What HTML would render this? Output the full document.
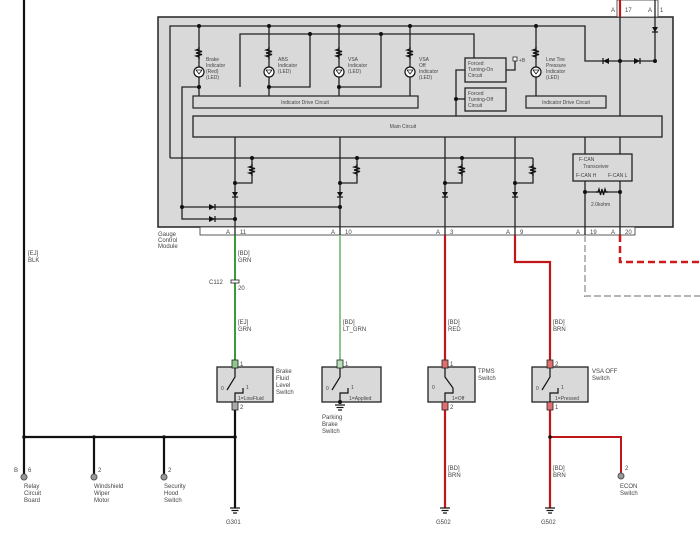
<!DOCTYPE html>
<html><head><meta charset="utf-8"><style>
html,body{margin:0;padding:0;background:#fff;}
svg{display:block;font-family:"Liberation Sans",sans-serif;}
text{font-size:6px;fill:#444;}
.s{font-size:5px;}
</style></head><body>
<svg width="700" height="538" viewBox="0 0 700 538">
<defs>
<g id="res"><path d="M0,-6 L0,-4 L-3,-3 L3,-1.5 L-3,0 L3,1.5 L-3,3 L0,4 L0,6" fill="none" stroke="#111" stroke-width="1.2"/></g>
<g id="lamp"><circle r="5" fill="#fff" stroke="#111" stroke-width="1.2"/><path d="M-3,-2 L0,2 L3,-2 M-3,-2 L3,-2" fill="none" stroke="#111" stroke-width="0.8"/></g>
<g id="diode"><path d="M-4,-3 L-4,3 L2,0 Z" fill="#111"/><line x1="2" y1="-3" x2="2" y2="3" stroke="#111" stroke-width="1.2"/></g>
<g id="ddown"><path d="M-3,-3 L3,-3 L0,2 Z" fill="#111"/><line x1="-3" y1="2" x2="3" y2="2" stroke="#111" stroke-width="1.2"/></g>
<g id="gnd"><line x1="-5" y1="0" x2="5" y2="0" stroke="#111" stroke-width="1.2"/><line x1="-3.5" y1="2.5" x2="3.5" y2="2.5" stroke="#111" stroke-width="1.2"/><line x1="-2" y1="5" x2="2" y2="5" stroke="#111" stroke-width="1.2"/></g>
</defs>

<rect x="158" y="17" width="515" height="210" fill="#d9d9d9" stroke="#222" stroke-width="1.5"/>
<rect x="200" y="227" width="435" height="8" fill="#fff" stroke="#333" stroke-width="0.8"/>
<rect x="617" y="0" width="41" height="17" fill="#fff" stroke="#333" stroke-width="0.8"/>
<text x="158" y="236">Gauge</text><text x="158" y="242">Control</text><text x="158" y="248">Module</text>

<g fill="none" stroke="#222" stroke-width="1.3">
<polyline points="170,158 170,26 585,26 585,61 600,61"/>
<line x1="170" y1="158" x2="533" y2="158"/>
<polyline points="240,87 240,34 474,34 474,58"/>
<polyline points="199,87 182,87 182,219 235,219"/>
<line x1="182" y1="207" x2="340" y2="207"/>
<line x1="199" y1="26" x2="199" y2="96"/>
<line x1="269" y1="26" x2="269" y2="96"/>
<line x1="339" y1="26" x2="339" y2="96"/>
<line x1="410" y1="26" x2="410" y2="96"/>
<polyline points="269,87 310,87 310,34"/>
<polyline points="339,87 381,87 381,34"/>
<line x1="536" y1="26" x2="536" y2="96"/>
<polyline points="456,116 456,70 465,70"/>
<line x1="456" y1="99" x2="465" y2="99"/>
<polyline points="506,70 515,70 515,61"/>
<line x1="600" y1="61" x2="655" y2="61"/>
<line x1="620" y1="0" x2="620" y2="116"/>
<line x1="655" y1="0" x2="655" y2="61"/>
<line x1="235" y1="137" x2="235" y2="235"/>
<line x1="340" y1="137" x2="340" y2="235"/>
<line x1="445" y1="137" x2="445" y2="235"/>
<line x1="515" y1="137" x2="515" y2="235"/>
<line x1="585" y1="137" x2="585" y2="235"/>
<line x1="620" y1="137" x2="620" y2="235"/>
<polyline points="252,158 252,183 235,183"/>
<polyline points="357,158 357,183 340,183"/>
<polyline points="462,158 462,183 445,183"/>
<polyline points="533,158 533,183 515,183"/>
<line x1="585" y1="192" x2="620" y2="192"/>
</g>
<g fill="#111">
<circle cx="199" cy="26" r="2"/><circle cx="269" cy="26" r="2"/><circle cx="339" cy="26" r="2"/><circle cx="410" cy="26" r="2"/><circle cx="536" cy="26" r="2"/>
<circle cx="310" cy="34" r="2"/><circle cx="381" cy="34" r="2"/>
<circle cx="199" cy="87" r="2"/><circle cx="269" cy="87" r="2"/><circle cx="339" cy="87" r="2"/>
<circle cx="456" cy="99" r="2"/><circle cx="620" cy="61" r="2"/><circle cx="655" cy="61" r="2"/>
<circle cx="252" cy="158" r="2"/><circle cx="357" cy="158" r="2"/><circle cx="462" cy="158" r="2"/>
<circle cx="235" cy="183" r="2"/><circle cx="340" cy="183" r="2"/><circle cx="445" cy="183" r="2"/><circle cx="515" cy="183" r="2"/>
<circle cx="182" cy="207" r="2"/><circle cx="340" cy="207" r="2"/><circle cx="235" cy="219" r="2"/>
<circle cx="585" cy="192" r="2"/><circle cx="620" cy="192" r="2"/>
</g>
<use href="#res" x="199" y="53"/><use href="#res" x="269" y="53"/><use href="#res" x="339" y="53"/><use href="#res" x="410" y="53"/><use href="#res" x="536" y="53"/>
<use href="#lamp" x="199" y="72"/><use href="#lamp" x="269" y="72"/><use href="#lamp" x="339" y="72"/><use href="#lamp" x="410" y="72"/><use href="#lamp" x="536" y="72"/>
<use href="#res" x="252" y="170"/><use href="#res" x="357" y="170"/><use href="#res" x="462" y="170"/><use href="#res" x="533" y="170"/>
<use href="#ddown" x="235" y="195"/><use href="#ddown" x="340" y="195"/><use href="#ddown" x="445" y="195"/><use href="#ddown" x="515" y="195"/>
<use href="#ddown" x="655" y="30"/>
<use href="#diode" x="213" y="207"/><use href="#diode" x="213" y="219"/>
<g transform="translate(605,61) rotate(180)"><use href="#diode"/></g>
<use href="#diode" x="638" y="61"/>
<g transform="translate(602,192) rotate(90)"><use href="#res"/></g>
<rect x="513" y="57" width="4" height="4" fill="#fff" stroke="#222" stroke-width="0.8"/>
<text x="519" y="62" class="s">+B</text>

<text class="s" x="206" y="61">Brake</text><text class="s" x="206" y="67">Indicator</text><text class="s" x="206" y="73">(Red)</text><text class="s" x="206" y="79">(LED)</text>
<text class="s" x="278" y="61">ABS</text><text class="s" x="278" y="67">Indicator</text><text class="s" x="278" y="73">(LED)</text>
<text class="s" x="348" y="61">VSA</text><text class="s" x="348" y="67">Indicator</text><text class="s" x="348" y="73">(LED)</text>
<text class="s" x="419" y="61">VSA</text><text class="s" x="419" y="67">Off</text><text class="s" x="419" y="73">Indicator</text><text class="s" x="419" y="79">(LED)</text>
<text class="s" x="546" y="61">Low Tire</text><text class="s" x="546" y="67">Pressure</text><text class="s" x="546" y="73">Indicator</text><text class="s" x="546" y="79">(LED)</text>

<rect x="193" y="96" width="225" height="12" fill="#d9d9d9" stroke="#222" stroke-width="1.2"/>
<text class="s" x="305" y="104" text-anchor="middle">Indicator Drive Circuit</text>
<rect x="526" y="96" width="80" height="12" fill="#d9d9d9" stroke="#222" stroke-width="1.2"/>
<text class="s" x="566" y="104" text-anchor="middle">Indicator Drive Circuit</text>
<rect x="193" y="116" width="469" height="21" fill="#d9d9d9" stroke="#222" stroke-width="1.3"/>
<text class="s" x="403" y="128" text-anchor="middle">Main Circuit</text>
<rect x="465" y="58" width="41" height="24" fill="#d9d9d9" stroke="#222" stroke-width="1.3"/>
<text class="s" x="468" y="65">Forced</text><text class="s" x="468" y="71">Turning-On</text><text class="s" x="468" y="77">Circuit</text>
<rect x="465" y="88" width="41" height="23" fill="#d9d9d9" stroke="#222" stroke-width="1.3"/>
<text class="s" x="468" y="95">Forced</text><text class="s" x="468" y="101">Turning-Off</text><text class="s" x="468" y="107">Circuit</text>
<rect x="573" y="154" width="59" height="27" fill="#d9d9d9" stroke="#222" stroke-width="1.3"/>
<text class="s" x="579" y="161">F-CAN</text><text class="s" x="583" y="168">Transceiver</text>
<text class="s" x="576" y="177">F-CAN H</text><text class="s" x="608" y="177">F-CAN L</text>
<text class="s" x="591" y="206">2.0kohm</text>

<text x="226" y="234">A</text><text x="240" y="234">11</text>
<text x="331" y="234">A</text><text x="345" y="234">10</text>
<text x="436" y="234">A</text><text x="450" y="234">3</text>
<text x="506" y="234">A</text><text x="520" y="234">9</text>
<text x="576" y="234">A</text><text x="590" y="234">19</text>
<text x="611" y="234">A</text><text x="625" y="234">20</text>
<text x="611" y="12">A</text><text x="625" y="12">17</text>
<text x="648" y="12">A</text><text x="660" y="12">1</text>

<line x1="235" y1="235" x2="235" y2="360" stroke="#3a9a3a" stroke-width="2"/>
<line x1="340" y1="235" x2="340" y2="360" stroke="#8cc88c" stroke-width="2"/>
<line x1="445" y1="235" x2="445" y2="360" stroke="#c0161a" stroke-width="2.2"/>
<polyline points="515,235 515,262 550,262 550,360" fill="none" stroke="#c0161a" stroke-width="2.2"/>
<line x1="620" y1="0" x2="620" y2="17" stroke="#c0161a" stroke-width="2.2"/>
<polyline points="620,235 620,262 700,262" fill="none" stroke="#d01a1a" stroke-width="2.5" stroke-dasharray="7,4"/>
<polyline points="585,235 585,296 700,296" fill="none" stroke="#888" stroke-width="2" stroke-dasharray="7,3"/>
<polyline points="585,235 585,296 700,296" fill="none" stroke="#fff" stroke-width="0.8" stroke-dasharray="7,3"/>
<line x1="24" y1="0" x2="24" y2="476" stroke="#111" stroke-width="2.2"/>
<line x1="24" y1="437" x2="235" y2="437" stroke="#111" stroke-width="2.2"/>
<line x1="94" y1="437" x2="94" y2="476" stroke="#111" stroke-width="2.2"/>
<line x1="164" y1="437" x2="164" y2="476" stroke="#111" stroke-width="2.2"/>
<line x1="235" y1="403" x2="235" y2="508" stroke="#111" stroke-width="2.2"/>
<line x1="445" y1="403" x2="445" y2="508" stroke="#c0161a" stroke-width="2.2"/>
<line x1="550" y1="403" x2="550" y2="508" stroke="#c0161a" stroke-width="2.2"/>
<polyline points="550,437 621,437 621,473" fill="none" stroke="#c0161a" stroke-width="2"/>
<g fill="#999" stroke="#555" stroke-width="1">
<circle cx="24" cy="477" r="3"/><circle cx="94" cy="477" r="3"/><circle cx="164" cy="477" r="3"/><circle cx="621" cy="476" r="3"/>
</g>
<g fill="#111"><circle cx="24" cy="437" r="1.8"/><circle cx="94" cy="437" r="1.8"/><circle cx="164" cy="437" r="1.8"/><circle cx="235" cy="437" r="1.8"/><circle cx="550" cy="437" r="1.8"/></g>
<use href="#gnd" x="235" y="508"/><use href="#gnd" x="445" y="508"/><use href="#gnd" x="550" y="508"/>
<text x="226" y="524">G301</text><text x="436" y="524">G502</text><text x="541" y="524">G502</text>

<text x="28" y="255">[EJ]</text><text x="28" y="262">BLK</text>
<text x="238" y="255">[BD]</text><text x="238" y="262">GRN</text>
<rect x="231" y="280" width="8" height="3" fill="#fff" stroke="#222" stroke-width="0.8"/>
<text x="209" y="284">C112</text><text x="238" y="290">20</text>
<text x="238" y="324">[EJ]</text><text x="238" y="331">GRN</text>
<text x="343" y="324">[BD]</text><text x="343" y="331">LT_GRN</text>
<text x="448" y="324">[BD]</text><text x="448" y="331">RED</text>
<text x="553" y="324">[BD]</text><text x="553" y="331">BRN</text>
<text x="448" y="470">[BD]</text><text x="448" y="477">BRN</text>
<text x="553" y="470">[BD]</text><text x="553" y="477">BRN</text>
<text x="14" y="472">B</text><text x="28" y="472">6</text><text x="98" y="472">2</text><text x="168" y="472">2</text><text x="625" y="470">2</text>
<text x="24" y="488">Relay</text><text x="24" y="495">Circuit</text><text x="24" y="502">Board</text>
<text x="94" y="488">Windshield</text><text x="94" y="495">Wiper</text><text x="94" y="502">Motor</text>
<text x="164" y="488">Security</text><text x="164" y="495">Hood</text><text x="164" y="502">Switch</text>
<text x="620" y="488">ECON</text><text x="620" y="495">Switch</text>

<rect x="217" y="367" width="56" height="35" fill="#d9d9d9" stroke="#222" stroke-width="1.3"/>
<rect x="232" y="360" width="6" height="8" fill="#8fc88f" stroke="#222" stroke-width="0.8"/>
<rect x="232" y="402" width="6" height="8" fill="#aaa" stroke="#222" stroke-width="0.8"/>
<polyline points="235,368 235,377 227,390" fill="none" stroke="#111" stroke-width="1.2"/>
<polyline points="235,402 235,393 243,393 243,388" fill="none" stroke="#111" stroke-width="1.2"/>
<text class="s" x="221" y="390">0</text><text class="s" x="246" y="389">1</text><text class="s" x="238" y="400">1=LowFluid</text>
<text x="240" y="366">1</text><text x="240" y="409">2</text>
<text x="276" y="373">Brake</text><text x="276" y="380">Fluid</text><text x="276" y="387">Level</text><text x="276" y="394">Switch</text>

<rect x="322" y="367" width="59" height="35" fill="#d9d9d9" stroke="#222" stroke-width="1.3"/>
<rect x="337" y="360" width="6" height="8" fill="#b8e0b8" stroke="#222" stroke-width="0.8"/>
<polyline points="340,368 340,377 332,390" fill="none" stroke="#111" stroke-width="1.2"/>
<polyline points="340,402 340,393 348,393 348,388" fill="none" stroke="#111" stroke-width="1.2"/>
<circle cx="340" cy="402" r="2" fill="#111"/><use href="#gnd" x="340" y="405"/>
<text class="s" x="326" y="390">0</text><text class="s" x="351" y="389">1</text><text class="s" x="349" y="400">1=Applied</text>
<text x="345" y="366">1</text>
<text x="322" y="419">Parking</text><text x="322" y="426">Brake</text><text x="322" y="433">Switch</text>

<rect x="428" y="367" width="47" height="35" fill="#d9d9d9" stroke="#222" stroke-width="1.3"/>
<rect x="442" y="360" width="6" height="8" fill="#e07070" stroke="#222" stroke-width="0.8"/>
<rect x="442" y="402" width="6" height="8" fill="#e07070" stroke="#222" stroke-width="0.8"/>
<polyline points="445,368 445,377 453,388" fill="none" stroke="#111" stroke-width="1.2"/>
<polyline points="445,402 445,393 453,393 453,388" fill="none" stroke="#111" stroke-width="1.2"/>
<text class="s" x="432" y="389">0</text><text class="s" x="452" y="400">1=Off</text>
<text x="450" y="366">1</text><text x="450" y="409">2</text>
<text x="478" y="373">TPMS</text><text x="478" y="380">Switch</text>

<rect x="532" y="367" width="56" height="35" fill="#d9d9d9" stroke="#222" stroke-width="1.3"/>
<rect x="547" y="360" width="6" height="8" fill="#e07070" stroke="#222" stroke-width="0.8"/>
<rect x="547" y="402" width="6" height="8" fill="#e07070" stroke="#222" stroke-width="0.8"/>
<polyline points="550,368 550,377 542,390" fill="none" stroke="#111" stroke-width="1.2"/>
<polyline points="550,402 550,393 558,393 558,388" fill="none" stroke="#111" stroke-width="1.2"/>
<text class="s" x="536" y="390">0</text><text class="s" x="561" y="389">1</text><text class="s" x="555" y="400">1=Pressed</text>
<text x="555" y="366">2</text><text x="555" y="409">1</text>
<text x="592" y="373">VSA OFF</text><text x="592" y="380">Switch</text>
</svg>
</body></html>
